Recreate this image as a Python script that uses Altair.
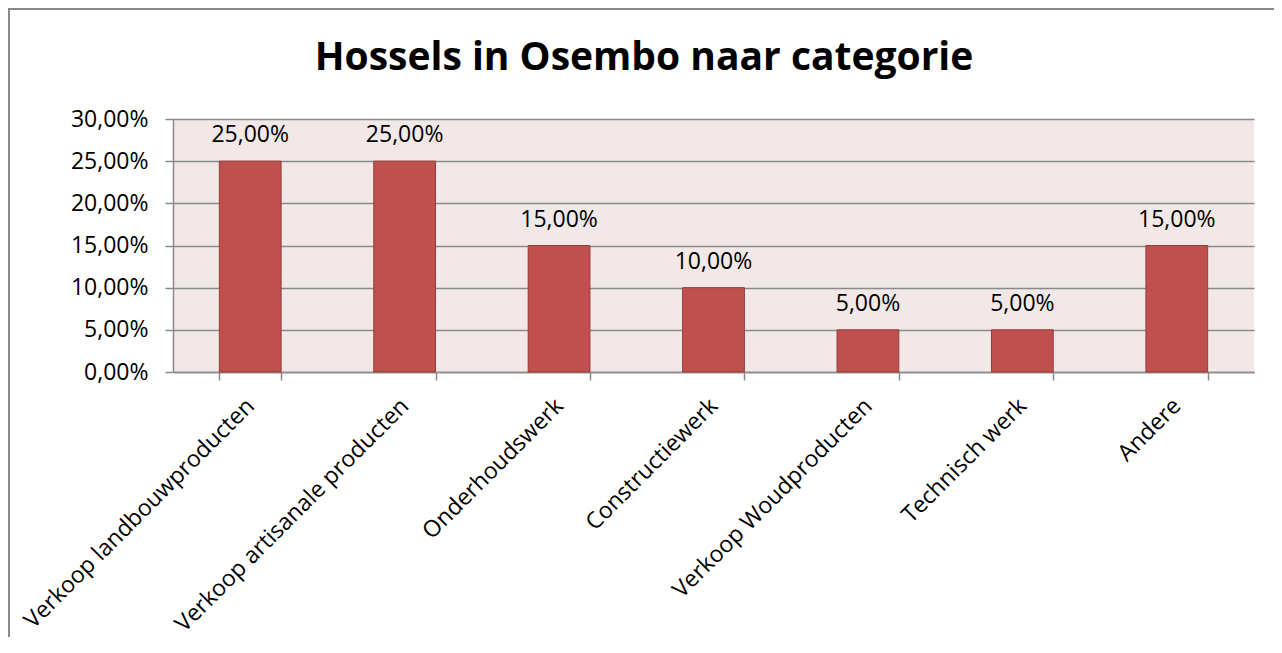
import altair as alt
import pandas as pd

categories = [
    "Verkoop landbouwproducten",
    "Verkoop artisanale producten",
    "Onderhoudswerk",
    "Constructiewerk",
    "Verkoop Woudproducten",
    "Technisch werk",
    "Andere",
]
values = [0.25, 0.25, 0.15, 0.10, 0.05, 0.05, 0.15]
y_ticks = [0.0, 0.05, 0.10, 0.15, 0.20, 0.25, 0.30]
title_text = "Hossels in Osembo naar categorie"

df = pd.DataFrame({"cat": categories, "val": values})

FONT = "Open Sans"
GREY = "#8A8A8A"
FS = 23

x_enc = alt.X(
    "cat:N",
    sort=categories,
    title=None,
    scale=alt.Scale(paddingInner=0.6, paddingOuter=0.3),
    axis=alt.Axis(
        labelAngle=315,
        labelAlign="right",
        labelBaseline="middle",
        labelFont=FONT,
        labelFontSize=FS,
        labelColor="#000000",
        labelPadding=22,
        tickBand="extent",
        tickSize=8,
        tickColor=GREY,
        tickWidth=1.5,
        domainColor=GREY,
        domainWidth=1.5,
        grid=False,
        labelLimit=600,
    ),
)
y_enc = alt.Y(
    "val:Q",
    title=None,
    scale=alt.Scale(domain=[0, 0.30], nice=False),
    axis=alt.Axis(
        values=y_ticks,
        labelExpr="replace(format(datum.value, '.2%'), '.', ',')",
        labelFont=FONT,
        labelFontSize=FS,
        labelColor="#000000",
        labelPadding=17,
        tickSize=8,
        tickColor=GREY,
        tickWidth=1.5,
        domainColor=GREY,
        domainWidth=1.5,
        grid=True,
        gridColor=GREY,
        gridWidth=1.5,
    ),
)

base = alt.Chart(df)

bars = base.mark_bar(color="#C0504D", stroke="#9A3B39", strokeWidth=1).encode(
    x=x_enc, y=y_enc
)

labels = base.transform_calculate(
    lbl="replace(format(datum.val, '.2%'), '.', ',')"
).mark_text(
    font=FONT, fontSize=FS, baseline="alphabetic", dy=-19, color="#000000"
).encode(x=alt.X("cat:N", sort=categories), y="val:Q", text="lbl:N")

one = pd.DataFrame({"t": [title_text]})

title = alt.Chart(one).mark_text(
    font=FONT, fontSize=39, fontWeight="bold", baseline="alphabetic",
    align="center", color="#000000"
).encode(x=alt.value(471), y=alt.value(-49), text="t:N")

border_top = alt.Chart(one).mark_rule(color="#898989", strokeWidth=2).encode(
    x=alt.value(-165), x2=alt.value(1101), y=alt.value(-110)
)
border_left = alt.Chart(one).mark_rule(color="#898989", strokeWidth=2).encode(
    x=alt.value(-164), y=alt.value(-111), y2=alt.value(520)
)

chart = (
    alt.layer(bars, labels, title, border_top, border_left)
    .properties(
        width=1081,
        height=253,
        padding={"left": 165, "top": 111, "right": 20, "bottom": 265},
        autosize=alt.AutoSizeParams(type="none"),
        background="white",
    )
    .configure_view(fill="#F2E8E8", stroke=None)
)

chart.save("out.html", embed_options={"renderer": "svg", "actions": False})
